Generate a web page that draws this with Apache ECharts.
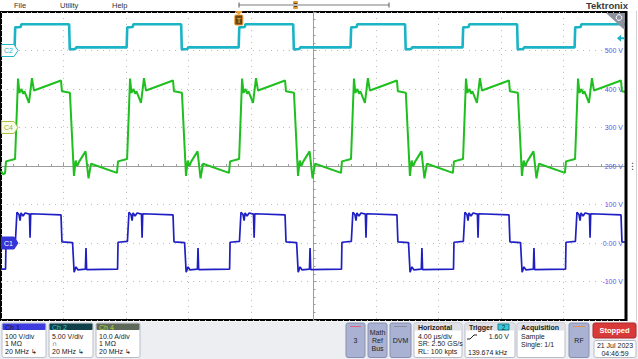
<!DOCTYPE html>
<html><head><meta charset="utf-8">
<script src="https://cdn.jsdelivr.net/npm/echarts@6/dist/echarts.min.js"></script>
<style>html,body{margin:0;padding:0;background:#fff;}#c{width:638px;height:359px;}</style>
</head><body><div id="c"></div>
<script>
// ---- data (time in µs from left edge of screen) ----
const timeRangeUs = [0, 40];
const ch1Labels = ['-100 V', '0.00 V', '100 V', '200 V', '300 V', '400 V', '500 V'];
const ch2Voltage = [[0,0.4],[0.87,0.4],[0.91,3.0],[1.26,3.05],[1.30,3.4],[4.36,3.4],[4.40,0.15],[4.76,0.2],[4.80,0.4],
 [8.04,0.4],[8.08,3.0],[8.43,3.05],[8.47,3.4],[11.53,3.4],[11.57,0.15],[11.93,0.2],[11.97,0.4],
 [15.21,0.4],[15.25,3.0],[15.60,3.05],[15.64,3.4],[18.70,3.4],[18.74,0.15],[19.10,0.2],[19.14,0.4],
 [22.37,0.4],[22.41,3.0],[22.76,3.05],[22.80,3.4],[25.86,3.4],[25.90,0.15],[26.26,0.2],[26.30,0.4],
 [29.54,0.4],[29.58,3.0],[29.93,3.05],[29.97,3.4],[33.03,3.4],[33.07,0.15],[33.43,0.2],[33.47,0.4],
 [36.71,0.4],[36.75,3.0],[37.10,3.05],[37.14,3.4],[40,3.4]];
const ch4Current = [[0,-11.3],[0.15,-12.2],[0.26,-11.8],[0.32,-8.8],[0.90,-8.2],[1.09,12.7],[1.18,9.0],[1.31,10.0],[1.41,8.8],[1.50,9.4],[1.79,6.4],[1.98,12.8],[2.11,9.6],[3.84,12.2],[3.90,9.4],[4.41,9.0],[4.67,-12.6],[4.78,-8.6],[4.88,-10.0],[5.01,-8.8],[5.41,-6.2],[5.60,-13.2],[5.76,-9.4],[7.42,-11.8],
 [7.49,-8.8],[8.07,-8.2],[8.26,12.7],[8.35,9.0],[8.48,10.0],[8.58,8.8],[8.67,9.4],[8.96,6.4],[9.15,12.8],[9.28,9.6],[11.01,12.2],[11.07,9.4],[11.58,9.0],[11.84,-12.6],[11.95,-8.6],[12.05,-10.0],[12.18,-8.8],[12.58,-6.2],[12.77,-13.2],[12.93,-9.4],[14.59,-11.8],
 [14.66,-8.8],[15.24,-8.2],[15.43,12.7],[15.52,9.0],[15.65,10.0],[15.75,8.8],[15.84,9.4],[16.13,6.4],[16.32,12.8],[16.45,9.6],[18.18,12.2],[18.24,9.4],[18.75,9.0],[19.01,-12.6],[19.12,-8.6],[19.22,-10.0],[19.35,-8.8],[19.75,-6.2],[19.94,-13.2],[20.10,-9.4],[21.76,-11.8],
 [21.82,-8.8],[22.40,-8.2],[22.59,12.7],[22.68,9.0],[22.81,10.0],[22.91,8.8],[23.00,9.4],[23.29,6.4],[23.48,12.8],[23.61,9.6],[25.34,12.2],[25.40,9.4],[25.91,9.0],[26.17,-12.6],[26.28,-8.6],[26.38,-10.0],[26.51,-8.8],[26.91,-6.2],[27.10,-13.2],[27.26,-9.4],[28.92,-11.8],
 [28.99,-8.8],[29.57,-8.2],[29.76,12.7],[29.85,9.0],[29.98,10.0],[30.08,8.8],[30.17,9.4],[30.46,6.4],[30.65,12.8],[30.78,9.6],[32.51,12.2],[32.57,9.4],[33.08,9.0],[33.34,-12.6],[33.45,-8.6],[33.55,-10.0],[33.68,-8.8],[34.08,-6.2],[34.27,-13.2],[34.43,-9.4],[36.09,-11.8],
 [36.16,-8.8],[36.74,-8.2],[36.93,12.7],[37.02,9.0],[37.15,10.0],[37.25,8.8],[37.34,9.4],[37.63,6.4],[37.82,12.8],[37.95,9.6],[39.68,12.2],[39.74,9.4],[40.00,9.2]];
const ch1Voltage = [[0,-68],[0.29,-68],[0.32,2],[0.92,4],[1.02,80],[1.15,74],[1.22,58],[1.28,78],[1.41,70],[1.54,78],[1.82,75],[1.86,14],[1.90,76],[3.84,73],[3.90,3],[4.58,1],[4.68,-76],[4.80,-62],[4.93,-70],[5.40,-68],[5.44,-13],[5.48,-69],[7.46,-68],
 [7.49,2],[8.09,4],[8.19,80],[8.32,74],[8.39,58],[8.45,78],[8.58,70],[8.71,78],[8.99,75],[9.03,14],[9.07,76],[11.01,73],[11.07,3],[11.75,1],[11.85,-76],[11.97,-62],[12.10,-70],[12.57,-68],[12.61,-13],[12.65,-69],[14.63,-68],
 [14.66,2],[15.26,4],[15.36,80],[15.49,74],[15.56,58],[15.62,78],[15.75,70],[15.88,78],[16.16,75],[16.20,14],[16.24,76],[18.18,73],[18.24,3],[18.92,1],[19.02,-76],[19.14,-62],[19.27,-70],[19.74,-68],[19.78,-13],[19.82,-69],[21.79,-68],
 [21.82,2],[22.42,4],[22.52,80],[22.65,74],[22.72,58],[22.78,78],[22.91,70],[23.04,78],[23.32,75],[23.36,14],[23.40,76],[25.34,73],[25.40,3],[26.08,1],[26.18,-76],[26.30,-62],[26.43,-70],[26.90,-68],[26.94,-13],[26.98,-69],[28.96,-68],
 [28.99,2],[29.59,4],[29.69,80],[29.82,74],[29.89,58],[29.95,78],[30.08,70],[30.21,78],[30.49,75],[30.53,14],[30.57,76],[32.51,73],[32.57,3],[33.25,1],[33.35,-76],[33.47,-62],[33.60,-70],[34.07,-68],[34.11,-13],[34.15,-69],[36.13,-68],
 [36.16,2],[36.76,4],[36.86,80],[36.99,74],[37.06,58],[37.12,78],[37.25,70],[37.38,78],[37.66,75],[37.70,14],[37.74,76],[39.68,73],[39.74,3],[40.00,2]];
const trigLevelV = 1.60;
const trigTimeUs = 15.22;
const ch1Range = [-200, 600], ch2Range = [-35, 5], ch4Range = [-50, 30];

const FF = '"Liberation Sans", "DejaVu Sans", sans-serif';
const chart = echarts.init(document.getElementById('c'), null, {renderer: 'svg'});
const grayLine = '#9c9c9c';
const dot = {color: '#bdbdbd', width: 1, type: [1, 5]};

chart.setOption({
  animation: false,
  backgroundColor: '#fff',
  grid: {left: 1, top: 12, width: 625, height: 308, show: true, borderColor: '#000', borderWidth: 2, backgroundColor: '#fff'},
  xAxis: [
    {type: 'value', min: timeRangeUs[0], max: timeRangeUs[1], interval: 4,
     axisLine: {show: true, onZero: true, onZeroAxisIndex: 0, lineStyle: {color: grayLine, width: 1}},
     axisTick: {show: true, inside: true, length: 3, lineStyle: {color: grayLine}},
     minorTick: {show: true, splitNumber: 5, length: 2, lineStyle: {color: grayLine}},
     axisLabel: {show: false}, splitLine: {show: true, lineStyle: dot}},
    {type: 'value', min: -20, max: 20, show: false}
  ],
  yAxis: [
    {type: 'value', min: -4, max: 4, interval: 1, position: 'left',
     axisLine: {show: true, onZero: true, onZeroAxisIndex: 1, lineStyle: {color: grayLine, width: 1}},
     axisTick: {show: true, inside: true, length: 3, lineStyle: {color: grayLine}},
     minorTick: {show: true, splitNumber: 5, length: 2, lineStyle: {color: grayLine}},
     axisLabel: {show: false}, splitLine: {show: true, lineStyle: dot}},
    {type: 'value', min: ch1Range[0], max: ch1Range[1], interval: 100, position: 'right',
     axisLine: {show: false}, axisTick: {show: false}, splitLine: {show: false},
     axisLabel: {inside: true, margin: 3, color: '#5b5be6', fontSize: 7, fontFamily: FF,
       showMinLabel: false, showMaxLabel: false,
       formatter: v => { const i = Math.round(v / 100) + 1; return ch1Labels[i] || ''; }}},
    {type: 'value', min: ch2Range[0], max: ch2Range[1], show: false},
    {type: 'value', min: ch4Range[0], max: ch4Range[1], show: false}
  ],
  series: [
    {name: 'Ch 2', type: 'line', xAxisIndex: 0, yAxisIndex: 2, data: ch2Voltage, showSymbol: false,
     lineStyle: {color: '#1ab4c4', width: 2.6}, z: 3},
    {name: 'Ch 4', type: 'line', xAxisIndex: 0, yAxisIndex: 3, data: ch4Current, showSymbol: false,
     lineStyle: {color: '#1fbf1f', width: 2}, z: 3},
    {name: 'Ch 1', type: 'line', xAxisIndex: 0, yAxisIndex: 1, data: ch1Voltage, showSymbol: false,
     lineStyle: {color: '#1f1fc4', width: 1.7}, z: 3}
  ]
});

// positions from the library's scales
const yC1 = chart.convertToPixel({yAxisIndex: 1}, 0);
const yC2 = chart.convertToPixel({yAxisIndex: 2}, 0);
const yC4 = chart.convertToPixel({yAxisIndex: 3}, 0);
const yTrig = chart.convertToPixel({yAxisIndex: 2}, trigLevelV);
const xTrig = chart.convertToPixel({xAxisIndex: 0}, trigTimeUs);

function txt(t, x, y, o) {
  o = o || {};
  return {type: 'text', z: 20, style: {text: t, x: x, y: y, fill: o.fill || '#222', fontSize: o.size || 7,
    fontFamily: FF, fontWeight: o.bold ? 'bold' : 'normal', textAlign: o.align || 'left', textVerticalAlign: 'middle'}};
}
function rect(x, y, w, h, fill, stroke, r) {
  return {type: 'rect', z: 15, shape: {x: x, y: y, width: w, height: h, r: r == null ? 2 : r},
    style: {fill: fill, stroke: stroke || null, lineWidth: stroke ? 1 : 0}};
}
function line(x1, y1, x2, y2, c, w) {
  return {type: 'line', z: 16, shape: {x1: x1, y1: y1, x2: x2, y2: y2}, style: {stroke: c, lineWidth: w || 1}};
}
function tag(label, y, fill, stroke, tc) {
  return [{type: 'polygon', z: 18, shape: {points: [[1.5, y - 6], [14, y - 6], [18, y], [14, y + 6], [1.5, y + 6]]},
    style: {fill: fill, stroke: stroke, lineWidth: 1}}, txt(label, 8.5, y, {fill: tc, align: 'center', size: 7})];
}

let g = [];
// top menu
g.push(rect(0, 0, 638, 10.5, '#fff', null, 0));
g.push(txt('File', 14, 5, {fill: '#333', size: 7.5}));
g.push(txt('Utility', 60, 5, {fill: '#333', size: 7.5}));
g.push(txt('Help', 112, 5, {fill: '#333', size: 7.5}));
g.push(line(239, 5, 389, 5, '#bdbdbd', 2));
g.push(line(239, 2.5, 239, 7.5, '#555', 1));
g.push(line(389, 2.5, 389, 7.5, '#555', 1));
g.push(rect(293, 1, 5, 8, '#e89a2c', null, 1));
g.push(rect(294, 3, 3, 4, '#6a4010', null, 0));
g.push(txt('Tektronix', 628, 5, {fill: '#3a3a3a', size: 9.5, bold: true, align: 'right'}));
// right strip and thick right border
g.push(rect(628, 10.5, 10, 311, '#fff', null, 0));
g.push(line(626, 11, 626, 321, '#000', 3));
g.push(line(636.5, 11, 636.5, 321, '#d0d0d0', 1));
g.push(txt('⋮', 632.5, 166, {fill: '#333', size: 9, align: 'center'}));
// zoom icon
g.push({type: 'polygon', z: 18, shape: {points: [[606, 13], [624.5, 13], [624.5, 30]]}, style: {fill: '#8d929e'}});
g.push({type: 'circle', z: 19, shape: {cx: 619, cy: 17.5, r: 2.8}, style: {fill: 'none', stroke: '#fff', lineWidth: 1}});
g.push(line(617, 19.5, 614.5, 22, '#fff', 1.2));
// trigger level arrow (cyan)
g.push({type: 'polygon', z: 18, shape: {points: [[617, yTrig], [621, yTrig - 3.5], [621, yTrig - 1], [624.5, yTrig - 1], [624.5, yTrig + 1], [621, yTrig + 1], [621, yTrig + 3.5]]}, style: {fill: '#19b3c3'}});
// trigger position marker (orange)
g.push({type: 'polygon', z: 18, shape: {points: [[xTrig - 4, 11], [xTrig + 4, 11], [xTrig, 15]]}, style: {fill: '#f0a030'}});
g.push(rect(xTrig - 4, 15, 8, 10, '#6b4514', '#f0a030', 1));
g.push(txt('T', xTrig, 20.5, {fill: '#f0a030', size: 7, bold: true, align: 'center'}));
// channel tags
g = g.concat(tag('C2', yC2, '#fff', '#27b6c8', '#27b6c8'));
g = g.concat(tag('C4', yC4, '#fafce8', '#a9c04a', '#9ab23a'));
g = g.concat(tag('C1', yC1, '#3535d8', '#3535d8', '#fff'));

// bottom panel
g.push(rect(0, 321.5, 638, 37.5, '#eceef2', null, 0));
function chBox(x, head, headFill, headText, lines) {
  g.push(rect(x, 323, 44, 34.5, '#fff', '#b8bcc8', 2));
  g.push(rect(x + 0.5, 323.5, 43, 6.5, headFill, null, 1));
  g.push(txt(head, x + 3, 327, {fill: headText, size: 7}));
  g.push(txt(lines[0], x + 3, 336, {size: 7}));
  g.push(txt(lines[1], x + 3, 343.5, {size: 7}));
  g.push(txt(lines[2], x + 3, 351.5, {size: 7}));
}
chBox(2, 'Ch 1', '#3b3be0', '#14144a', ['100 V/div', '1 MΩ', '20 MHz ↳']);
chBox(49, 'Ch 2', '#0f3f48', '#38c8d8', ['5.00 V/div', '∩', '20 MHz ↳']);
chBox(96, 'Ch 4', '#5d685a', '#b9d23c', ['10.0 A/div', '1 MΩ', '20 MHz ↳']);

function btn(x, w, lines, topColor) {
  g.push(rect(x, 323, w, 34.5, '#a9b2d3', '#8890b2', 2));
  if (topColor) g.push(line(x + 4, 326.5, x + w - 4, 326.5, topColor, 1));
  const n = lines.length, y0 = 340 - (n - 1) * 4;
  lines.forEach((t, i) => g.push(txt(t, x + w / 2, y0 + i * 8, {align: 'center', size: 7})));
}
btn(346, 19, ['3'], '#e0607e');
btn(368, 19, ['Math', 'Ref', 'Bus'], null);
btn(390, 21, ['DVM'], '#8a8f9a');
btn(569, 20, ['RF'], '#e8904a');

function infoBox(x, w, head, rows) {
  g.push(rect(x, 323, w, 34.5, '#fff', '#b8bcc8', 2));
  g.push(rect(x + 0.5, 323.5, w - 1, 7, '#dfe1e7', null, 1));
  g.push(txt(head, x + 4, 327.2, {bold: true, size: 7}));
  rows.forEach(r => g.push(txt(r[0], r[1], r[2], {size: 7, align: r[3] || 'left'})));
}
infoBox(414, 48, 'Horizontal', [['4.00 µs/div', 418, 336], ['SR: 2.50 GS/s', 418, 343.5], ['RL: 100 kpts', 418, 351.5]]);
infoBox(465, 50, 'Trigger', [['1.60 V', 509, 336, 'right'], ['139.674 kHz', 468, 352]]);
g.push(rect(498, 324, 11, 6, '#38c8d8', '#1a8090', 0));
g.push(txt('2', 503.5, 327.2, {size: 6.5, align: 'center', fill: '#0a3a44'}));
g.push(line(470, 339, 474, 335, '#222', 1));
g.push(line(474, 335, 477, 335, '#222', 1));
g.push(line(467, 339, 470, 339, '#222', 1));
infoBox(517, 48, 'Acquisition', [['Sample', 521, 336], ['Single: 1/1', 521, 344]]);

g.push(rect(593, 323, 43, 15, '#d83a3a', '#b02828', 2));
g.push(txt('Stopped', 614.5, 330.5, {fill: '#fff', bold: true, size: 7.5, align: 'center'}));
g.push(rect(594, 340.5, 42, 17, '#fff', '#b8bcc8', 2));
g.push(txt('21 Jul 2023', 615, 345.5, {size: 7, align: 'center'}));
g.push(txt('04:46:59', 615, 353, {size: 7, align: 'center'}));

chart.setOption({graphic: g});
</script></body></html>
